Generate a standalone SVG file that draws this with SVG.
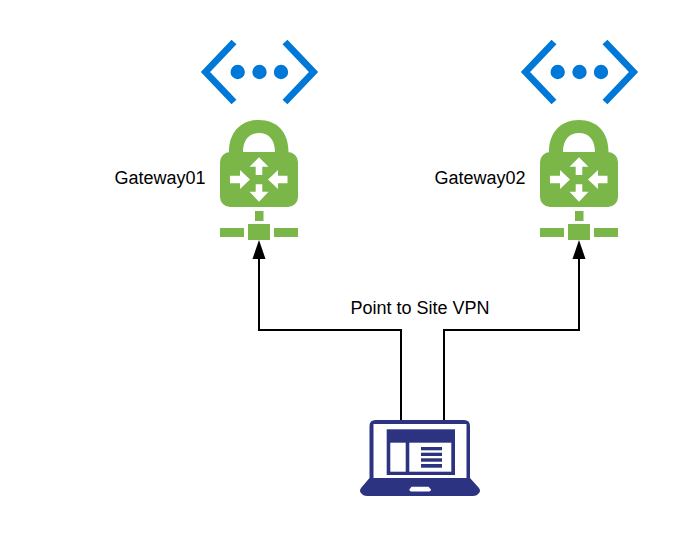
<svg xmlns="http://www.w3.org/2000/svg" xmlns:xlink="http://www.w3.org/1999/xlink" width="680" height="536" viewBox="0 0 680 536">
<style>
.label{font-family:"Liberation Sans",Arial,sans-serif;font-size:18px;fill:#000}
.conn{fill:none;stroke:#000;stroke-width:2}
.head{fill:#000}
.blue{fill:none;stroke:#0078d7;stroke-width:6.8}
.dot{fill:#0078d7}
.green{fill:#7ab648}
.white{fill:#fff}
.navy{fill:#2c3481}
</style>
<defs>
<g id="vnet">
<path class="blue" d="M234 42L205.500 72L234 102"/>
<path class="blue" d="M285 42L313.500 72L285 102"/>
<circle class="dot" cx="237.700" cy="72" r="7.200"/>
<circle class="dot" cx="259.500" cy="72" r="7.200"/>
<circle class="dot" cx="281" cy="72" r="7.200"/>
</g>
<g id="gateway">
<path class="green" d="M229 152C229 132 241 120 259 120C277 120 288.500 132 288.500 152H275C275 140 269 133 259 133C249 133 243 140 243 152z"/>
<rect class="green" x="220" y="152" width="78" height="55" rx="10"/>
<path class="white" d="M259 157.300L268.500 166.700H262.300V175H255.700V166.700H249.500z"/>
<path class="white" d="M259 201.700L268.500 191.700H262.300V184.300H255.700V191.700H249.500z"/>
<path class="white" d="M250 179.500L240 170V175.700H230V183.300H240V189z"/>
<path class="white" d="M268 179.500L278 170V175.700H287.500V183.300H278V189z"/>
<rect class="green" x="255" y="211" width="8.500" height="10"/>
<rect class="green" x="248" y="224" width="22" height="16"/>
<rect class="green" x="220" y="228" width="24" height="9"/>
<rect class="green" x="274" y="228" width="24" height="9"/>
</g>
</defs>
<g id="connectors">
<path class="conn" d="M401 421V330H259V258"/>
<path class="head" d="M259 240L265.500 259H252.500z"/>
<path class="conn" d="M444 421V330H579V258"/>
<path class="head" d="M579 240L585.500 259H572.500z"/>
</g>
<g id="vnet1"><use xlink:href="#vnet" href="#vnet"/></g>
<g id="vnet2"><use xlink:href="#vnet" href="#vnet" x="320"/></g>
<g id="gateway01"><use xlink:href="#gateway" href="#gateway"/><text class="label" x="160" y="184" text-anchor="middle">Gateway01</text></g>
<g id="gateway02"><use xlink:href="#gateway" href="#gateway" x="320"/><text class="label" x="480" y="184" text-anchor="middle">Gateway02</text></g>
<g id="vpn-label"><text class="label" x="420" y="314" text-anchor="middle">Point to Site VPN</text></g>
<g id="laptop">
<path class="navy" fill-rule="evenodd" d="M369.500 478V426Q369.500 420 375.500 420H464Q470 420 470 426V478L479 488Q481 491 479 493Q477 496 473 496H367Q363 496 361 493Q359 491 361 488zM373.500 478H466.500V424H373.500z"/>
<path class="white" d="M411.500 486.700H428.500L431 489.500Q431 491.500 429 491.500H411.500Q409.300 491.500 409.300 489.500z"/>
<rect class="navy" x="386.700" y="429.300" width="68.300" height="45.700"/>
<rect class="white" x="390.300" y="442.700" width="15.400" height="29"/>
<rect class="white" x="409.300" y="442.700" width="42" height="29"/>
<rect class="navy" x="421" y="447" width="21" height="3.300"/>
<rect class="navy" x="421" y="452.700" width="21" height="3.300"/>
<rect class="navy" x="421" y="458.300" width="21" height="3.400"/>
<rect class="navy" x="421" y="464" width="21" height="3.700"/>
</g>
</svg>
